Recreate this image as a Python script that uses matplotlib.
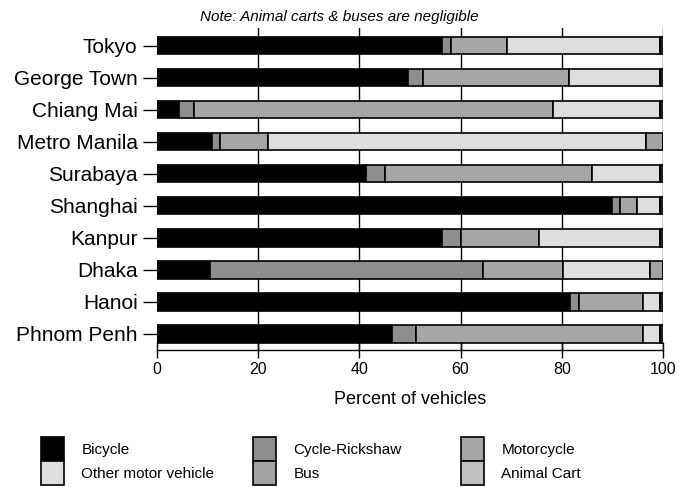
import matplotlib
matplotlib.use("Agg")
import matplotlib.pyplot as plt
import numpy as np

plt.rcParams['font.family'] = ['Liberation Sans', 'DejaVu Sans']

# byer (ovenfra og ned)
byer = ["Tokyo", "George Town", "Chiang Mai", "Metro Manila", "Surabaya",
        "Shanghai", "Kanpur", "Dhaka", "Hanoi", "Phnom Penh"]

# prosent av kjoretoy per type
sykkel      = [56.4, 49.7,  4.4, 10.8, 41.3, 89.9, 56.4, 10.4, 81.6, 46.5]
sykkeltaxi  = [ 1.8,  2.9,  3.0,  1.7,  3.8,  1.7,  3.7, 54.0,  1.8,  4.6]
motorsykkel = [11.0, 28.9, 70.8,  9.4, 40.9,  3.2, 15.4, 15.8, 12.6, 44.9]
andre_motor = [30.2, 17.9, 21.2, 74.8, 13.4,  4.6, 23.9, 17.3,  3.4,  3.4]
buss        = [ 0.3,  0.3,  0.3,  3.3,  0.3,  0.3,  0.3,  2.5,  0.3,  0.3]
dyrevogn    = [ 0.3,  0.3,  0.3,  0.0,  0.3,  0.3,  0.3,  0.0,  0.3,  0.3]

serier = [sykkel, sykkeltaxi, motorsykkel, andre_motor, buss, dyrevogn]
navn = ["Bicycle", "Cycle-Rickshaw", "Motorcycle", "Other motor vehicle", "Bus", "Animal Cart"]
farger = ["#000000", "#8e8e8e", "#a6a6a6", "#dedede", "#a3a3a3", "#c0c0c0"]

fig = plt.figure(figsize=(6.82, 4.87), dpi=100)
ax = fig.add_axes([157/682, 1 - 350/487, (663 - 157)/682, (350 - 28)/487])

y = np.arange(len(byer))
venstre = np.zeros(len(byer))
stolper = []
for verdier, farge, n in zip(serier, farger, navn):
    b = ax.barh(y, verdier, left=venstre, height=0.54, color=farge,
                edgecolor="black", linewidth=1.2, label=n, zorder=3)
    stolper.append(b)
    venstre = venstre + np.array(verdier)

# vertikale linjer bak stolpene
for x in [20, 40, 60, 80, 100]:
    ax.axvline(x, color="black", linewidth=1.0, zorder=1)

ax.set_xlim(0, 100)
ax.set_ylim(9.5, -0.55)
ax.set_yticks(y)
ax.set_yticklabels(byer, fontsize=15)
ax.set_xticks([0, 20, 40, 60, 80, 100])
ax.tick_params(axis="x", direction="inout", length=12, width=1.0, labelsize=11.5, pad=3)
ax.tick_params(axis="y", direction="out", length=10, width=1.0, pad=4)
for s in ["top", "right", "left"]:
    ax.spines[s].set_visible(False)
ax.spines["bottom"].set_linewidth(1.0)
ax.set_xlabel("Percent of vehicles", fontsize=13, labelpad=10)

fig.text(339/682, 1 - 17/487, "Note: Animal carts & buses are negligible",
         fontsize=11, style="italic", ha="center", va="center")

# legende i tre kolonner
kolonner = [(0, 3), (1, 4), (2, 5)]
xpos = [41, 253, 461]
for (i, j), xp in zip(kolonner, xpos):
    leg = fig.legend([stolper[i], stolper[j]], [navn[i], navn[j]],
                     loc="upper left", bbox_to_anchor=(xp/682, 1 - 437/487),
                     frameon=False, fontsize=11, handlelength=1.5, handleheight=2.0,
                     handletextpad=1.15, labelspacing=0.02, borderpad=0, borderaxespad=0)

fig.savefig("out.png", dpi=100)
